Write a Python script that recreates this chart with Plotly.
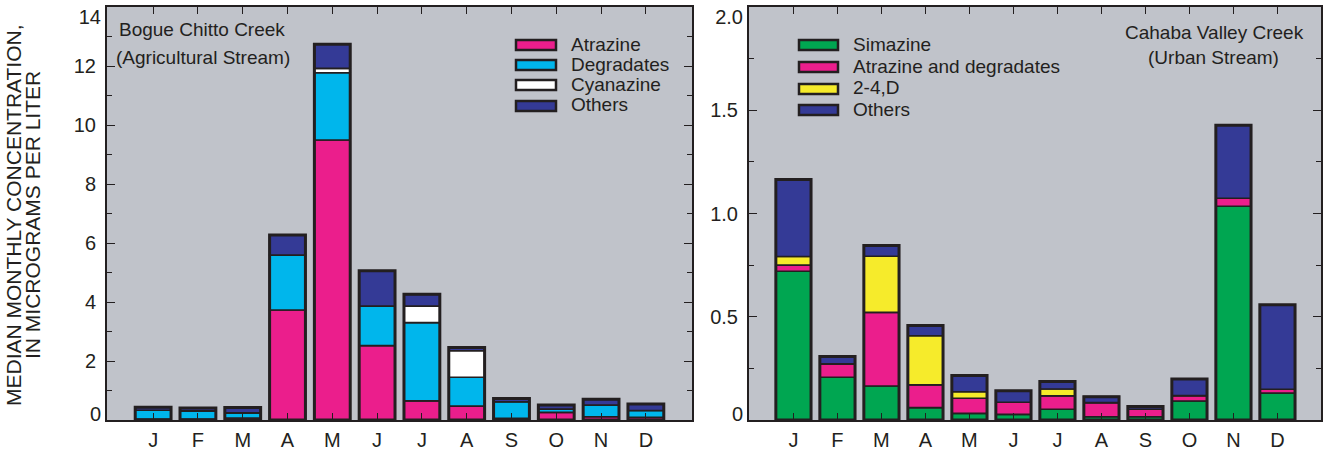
import plotly.graph_objects as go
import numpy as np

# ---------------- data ----------------
months = ["Jan", "Feb", "Mar", "Apr", "May", "Jun", "Jul", "Aug", "Sep", "Oct", "Nov", "Dec"]
month_letters = ["J", "F", "M", "A", "M", "J", "J", "A", "S", "O", "N", "D"]

# Bogue Chitto Creek (Agricultural Stream), micrograms per liter
bogue_atrazine = [0.03, 0.03, 0.07, 3.73, 9.49, 2.52, 0.65, 0.47, 0.06, 0.26, 0.11, 0.09]
bogue_degradates = [0.30, 0.28, 0.17, 1.86, 2.28, 1.34, 2.65, 0.98, 0.56, 0.11, 0.40, 0.23]
bogue_cyanazine = [0.0, 0.0, 0.0, 0.0, 0.15, 0.0, 0.56, 0.90, 0.0, 0.0, 0.0, 0.0]
bogue_others = [0.10, 0.10, 0.18, 0.68, 0.82, 1.20, 0.40, 0.11, 0.11, 0.14, 0.19, 0.22]

# Cahaba Valley Creek (Urban Stream), micrograms per liter
cahaba_simazine = [0.720, 0.207, 0.165, 0.060, 0.032, 0.027, 0.052, 0.016, 0.016, 0.092, 1.035, 0.130]
cahaba_atrazine = [0.030, 0.065, 0.356, 0.110, 0.073, 0.059, 0.065, 0.068, 0.036, 0.026, 0.039, 0.019]
cahaba_24d = [0.042, 0.0, 0.272, 0.238, 0.032, 0.0, 0.033, 0.0, 0.0, 0.0, 0.0, 0.0]
cahaba_others = [0.373, 0.035, 0.052, 0.050, 0.078, 0.056, 0.036, 0.029, 0.013, 0.080, 0.353, 0.409]

left_ticks = [0, 2, 4, 6, 8, 10, 12, 14]
left_tick_text = ["0", "2", "4", "6", "8", "10", "12", "14"]
right_ticks = [0, 0.5, 1.0, 1.5, 2.0]
right_tick_text = ["0", "0.5", "1.0", "1.5", "2.0"]

left_names = ["Atrazine", "Degradates", "Cyanazine", "Others"]
right_names = ["Simazine", "Atrazine and degradates", "2-4,D", "Others"]
y_title_lines = ["MEDIAN MONTHLY CONCENTRATION,", "IN MICROGRAMS PER LITER"]

# ---------------- style ----------------
W, H = 1325, 452
FONT = "Liberation Sans, Arial, Helvetica, sans-serif"
INK = "#231F20"
BG = "#C0C3CA"
PINK = "#EB1E8C"
CYAN = "#00B6EC"
WHITE = "#FFFFFF"
NAVY = "#343A96"
GREEN = "#00A651"
YELLOW = "#F6EB2B"

left_colors = [PINK, CYAN, WHITE, NAVY]
right_colors = [GREEN, PINK, YELLOW, NAVY]


def px(x):
    return x / W


def py(y):
    return 1 - y / H


fig = go.Figure()


def add_stack(series, colors, names, xa, ya):
    base = np.zeros(len(months))
    for vals, col, nm in zip(series, colors, names):
        vals = np.array(vals, dtype=float)
        fig.add_trace(go.Bar(
            x=months, y=vals, base=base.copy(), name=nm,
            marker=dict(color=col, line=dict(color=INK, width=1.6)),
            width=0.8, xaxis=xa, yaxis=ya, showlegend=False,
        ))
        base = base + vals
    # outer outline of each whole bar
    fig.add_trace(go.Bar(
        x=months, y=base, base=np.zeros(len(months)),
        marker=dict(color="rgba(0,0,0,0)", line=dict(color=INK, width=3)),
        width=0.8, xaxis=xa, yaxis=ya, showlegend=False, hoverinfo="skip",
    ))


add_stack([bogue_atrazine, bogue_degradates, bogue_cyanazine, bogue_others],
          left_colors, left_names, "x", "y")
add_stack([cahaba_simazine, cahaba_atrazine, cahaba_24d, cahaba_others],
          right_colors, right_names, "x2", "y2")

# empty helper traces so that the end-label axes are drawn
for xa, ya in [("x", "y3"), ("x", "y4"), ("x2", "y5"), ("x2", "y6")]:
    fig.add_trace(go.Scatter(x=[], y=[], xaxis=xa, yaxis=ya, mode="markers",
                             showlegend=False, hoverinfo="skip"))

y_dom = [py(420), py(7)]
TICKFONT = dict(family=FONT, size=20, color=INK)

common_x = dict(
    type="category", categoryorder="array", categoryarray=months,
    tickmode="array", tickvals=months, ticktext=month_letters,
    ticks="inside", ticklen=7, tickwidth=1.2, tickcolor=INK,
    showline=True, linewidth=2, linecolor=INK, mirror="ticks",
    showgrid=False, zeroline=False, fixedrange=True,
    tickfont=TICKFONT, ticklabelstandoff=1,
)
common_y = dict(
    ticks="inside", ticklen=8, tickwidth=1.2, tickcolor=INK,
    showline=True, linewidth=2, linecolor=INK, mirror="ticks",
    showgrid=False, zeroline=False, fixedrange=True,
    tickfont=TICKFONT, ticklabelstandoff=5, tickmode="array",
)


def end_label_axis(anchor, over, rng, val, txt, shift):
    # carries only one end label (bottom or top), nudged inside like the original
    return dict(anchor=anchor, overlaying=over, side="left", range=rng, type="linear",
                tickmode="array", tickvals=[val], ticktext=[txt], ticklabelshift=shift,
                ticks="", showline=False, showgrid=False,
                zeroline=False, fixedrange=True, tickfont=TICKFONT, ticklabelstandoff=5,
                ticklabeloverflow="allow")


fig.update_layout(
    autosize=True,
    margin=dict(l=0, r=0, t=0, b=0, autoexpand=False),
    paper_bgcolor="white", plot_bgcolor=BG,
    barmode="overlay", showlegend=False,
    font=dict(family=FONT, color=INK),
    xaxis=dict(common_x, domain=[px(107), px(692)], range=[-1.03, 12.03], anchor="y"),
    yaxis=dict(common_y, domain=y_dom, range=[0, 14],
               tickvals=left_ticks, ticktext=[""] + left_tick_text[1:-1] + [""], anchor="x",
               minor=dict(dtick=1, tick0=0, ticks="inside", ticklen=5, tickcolor=INK, showgrid=False)),
    xaxis2=dict(common_x, domain=[px(749), px(1321)], range=[-1.01, 11.99], anchor="y2"),
    yaxis2=dict(common_y, domain=y_dom, range=[0, 2],
                tickvals=right_ticks, ticktext=[""] + right_tick_text[1:-1] + [""], anchor="x2",
                minor=dict(dtick=0.25, tick0=0, ticks="inside", ticklen=5, tickcolor=INK, showgrid=False)),
    yaxis3=end_label_axis("x", "y", [0, 14], left_ticks[0], left_tick_text[0], -6),
    yaxis4=end_label_axis("x", "y", [0, 14], left_ticks[-1], left_tick_text[-1], 10),
    yaxis5=end_label_axis("x2", "y2", [0, 2], right_ticks[0], right_tick_text[0], -6),
    yaxis6=end_label_axis("x2", "y2", [0, 2], right_ticks[-1], right_tick_text[-1], 10),
)

annotations = []
shapes = []

# panel titles
annotations.append(dict(x=px(117), y=py(30), xref="paper", yref="paper", xanchor="left", yanchor="middle",
                        text="Bogue Chitto Creek", showarrow=False, font=dict(family=FONT, size=19, color=INK)))
annotations.append(dict(x=px(114), y=py(57), xref="paper", yref="paper", xanchor="left", yanchor="middle",
                        text="(Agricultural Stream)", showarrow=False, font=dict(family=FONT, size=19, color=INK)))
annotations.append(dict(x=px(1214), y=py(32), xref="paper", yref="paper", xanchor="center", yanchor="middle",
                        text="Cahaba Valley Creek", showarrow=False, font=dict(family=FONT, size=19, color=INK)))
annotations.append(dict(x=px(1213), y=py(58), xref="paper", yref="paper", xanchor="center", yanchor="middle",
                        text="(Urban Stream)", showarrow=False, font=dict(family=FONT, size=19, color=INK)))

# y-axis title (two tightly spaced lines)
for line, xc in zip(y_title_lines, [13, 32]):
    annotations.append(dict(x=px(xc), y=py(215), xref="paper", yref="paper", xanchor="center",
                            yanchor="middle", text=line, textangle=-90, showarrow=False,
                            font=dict(family=FONT, size=21, color=INK)))


def legend(names, colors, sx0, sx1, tx, ys):
    for nm, col, yc in zip(names, colors, ys):
        shapes.append(dict(type="rect", xref="paper", yref="paper",
                           x0=px(sx0), x1=px(sx1), y0=py(yc + 5), y1=py(yc - 5),
                           fillcolor=col, line=dict(color=INK, width=2.5)))
        annotations.append(dict(x=px(tx), y=py(yc - 1), xref="paper", yref="paper", xanchor="left",
                                yanchor="middle", text=nm, showarrow=False,
                                font=dict(family=FONT, size=19, color=INK)))


legend(left_names, left_colors, 516, 556, 569, [45, 65, 85, 106])
legend(right_names, right_colors, 799, 838, 851, [45, 67, 89, 110])

fig.update_layout(annotations=annotations, shapes=shapes)

fig.write_html(
    "out.html",
    config={"displayModeBar": False, "responsive": True},
    default_width="100vw", default_height="100vh",
    post_script=("document.documentElement.style.overflow='hidden';"
                 "document.body.style.margin='0';document.body.style.padding='0';"
                 "document.body.style.overflow='hidden';"
                 "Plotly.Plots.resize(document.getElementById('{plot_id}'));"),
)
